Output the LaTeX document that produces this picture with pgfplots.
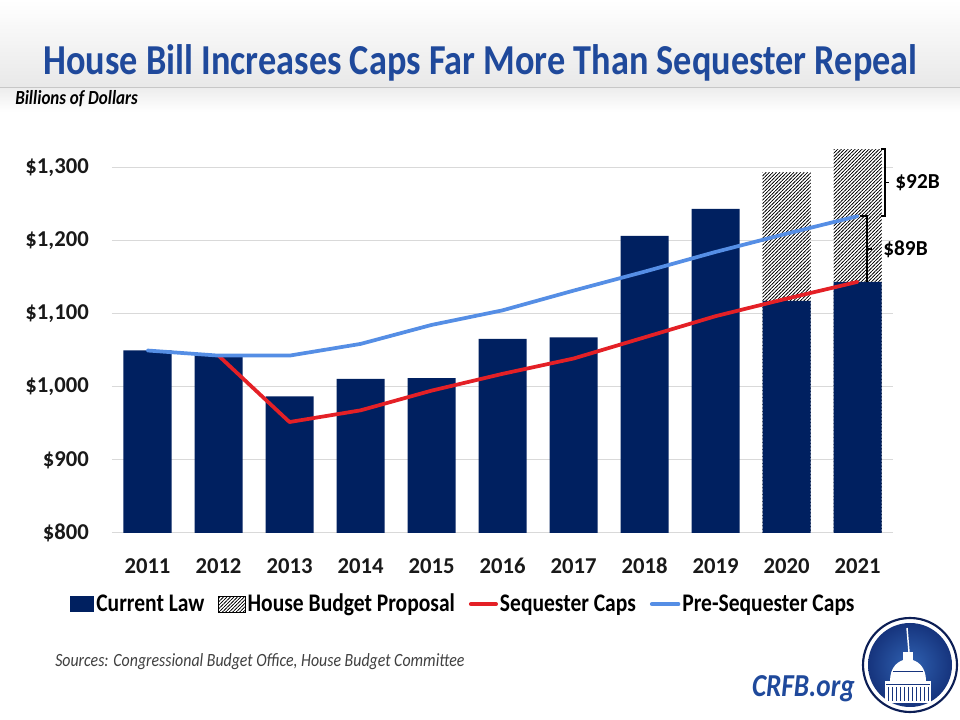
\documentclass[border=0pt]{standalone}
\usepackage{pgfplots}
\pgfplotsset{compat=1.18}
\usepackage{fontspec}
\setmainfont{Carlito}
\newfontfamily\condfont[FakeStretch=0.85]{Carlito}
\usetikzlibrary{patterns}
\definecolor{navy}{RGB}{0,32,96}
\definecolor{seqred}{RGB}{228,32,38}
\definecolor{preblue}{RGB}{85,142,229}
\definecolor{titleblue}{RGB}{31,73,155}
\definecolor{gridgray}{RGB}{217,217,217}
\definecolor{srcgray}{RGB}{64,64,64}
\definecolor{logodark}{RGB}{12,30,85}
\definecolor{logoin}{RGB}{48,98,178}
\definecolor{logoout}{RGB}{22,52,125}
\pgfdeclarepatternformonly{hatch}{\pgfqpoint{-1pt}{-1pt}}{\pgfqpoint{3.6pt}{3.6pt}}{\pgfqpoint{2.6pt}{2.6pt}}{%
  \pgfsetlinewidth{0.4pt}%
  \pgfpathmoveto{\pgfqpoint{-1pt}{-1pt}}%
  \pgfpathlineto{\pgfqpoint{3.6pt}{3.6pt}}%
  \pgfusepath{stroke}}
\begin{document}
\begin{tikzpicture}
\useasboundingbox (0,0) rectangle (720pt,540pt);
\begin{scope}[x=0.75pt,y=-0.75pt,shift={(0pt,540pt)}]
  \fill[white] (0,0) rectangle (960,720);
  \shade[top color=white, bottom color=black!9] (0,0) rectangle (960,88);
  \shade[top color=black!7, bottom color=white] (0,88) rectangle (960,112);
  \draw[black!22, line width=0.75pt] (0,88) -- (960,88);
  \node[anchor=base, text=titleblue, font=\condfont\bfseries\fontsize{32}{36}\selectfont, inner sep=0pt] at (480.5,75) {House Bill Increases Caps Far More Than Sequester Repeal};
  \node[anchor=base west, font=\condfont\bfseries\itshape\fontsize{15}{18}\selectfont, inner sep=0pt] at (15,105) {Billions of Dollars};
  \node[anchor=base west, text=srcgray, font=\condfont\itshape\fontsize{14}{17}\selectfont, inner sep=0pt] at (55,667) {Sources: Congressional Budget Office, House Budget Committee};
  \node[anchor=base east, text=titleblue, font=\condfont\bfseries\itshape\fontsize{24}{28}\selectfont, inner sep=0pt] at (855,697) {CRFB.org};
  % logo
  \draw[logodark, line width=1.6pt] (910,665) circle (47);
  \shade[inner color=logoin, outer color=logoout] (910,665) circle (42);
  \draw[white, line width=1.1pt] (907,628) -- (909,652);
  \fill[white] (903,652) rectangle (913,660);
  \fill[white] (890,681) .. controls (890,667) and (898,660) .. (908,659) .. controls (918,660) and (926,667) .. (926,681) -- cycle;
  \fill[white] (885,681) rectangle (931,703);
  \foreach \xx in {888,892,...,928} {\draw[logoout, line width=0.6pt] (\xx,687) -- (\xx,701);}
  \draw[logoout, line width=0.5pt] (893,671) -- (923,671);
  \draw[logoout, line width=0.5pt] (886,684) -- (930,684);
\end{scope}
\begin{axis}[
  at={(84pt,140.25pt)}, anchor=south west,
  scale only axis, width=585.75pt, height=301.125pt,
  xmin=-0.5, xmax=10.5, ymin=800, ymax=1350,
  clip mode=individual,
  axis line style={draw=none},
  major tick style={draw=none},
  xtick={0,1,2,3,4,5,6,7,8,9,10},
  xticklabels={2011,2012,2013,2014,2015,2016,2017,2018,2019,2020,2021},
  ytick={800,900,1000,1100,1200,1300},
  yticklabels={{\$800},{\$900},{\$1,000},{\$1,100},{\$1,200},{\$1,300}},
  ymajorgrids, grid style={draw=gridgray, line width=0.75pt},
  tick label style={font=\bfseries\fontsize{17}{20}\selectfont, text=black!90, inner sep=0pt},
  yticklabel style={anchor=east, xshift=-17.25pt},
  xticklabel style={anchor=north, yshift=-18.75pt},
  legend columns=4,
  legend cell align=left,
  legend style={draw=none, fill=none, at={(0.45,-0.177)}, anchor=center,
    font=\condfont\bfseries\fontsize{19}{22}\selectfont,
    nodes={inner sep=1.5pt},
    /tikz/every even column/.append style={column sep=9pt}},
]
% House proposal (hatched), drawn behind current law
\addplot[ybar, bar width=36pt, bar shift=0pt, draw=none, fill=white,
  postaction={pattern=hatch, pattern color=black}, forget plot]
  coordinates {(9,1294) (10,1326)};
% Current law
\addplot[ybar, bar width=36pt, bar shift=0pt, draw=none, fill=navy,
  legend image code/.code={\fill[navy] (0pt,-6pt) rectangle (18pt,6pt);}]
  coordinates {(0,1050) (1,1043) (2,987) (3,1011) (4,1012) (5,1066) (6,1068) (7,1207) (8,1244) (9,1118) (10,1144)};
\addlegendentry{Current Law}
\addlegendimage{legend image code/.code={\fill[white] (0pt,-6pt) rectangle (20pt,6pt); \fill[pattern=hatch, pattern color=black] (0pt,-6pt) rectangle (20pt,6pt);}}
\addlegendentry{House Budget Proposal}
% Sequester caps
\addplot[seqred, line width=2.8pt, line cap=round, line join=round, sharp plot,
  legend image code/.code={\draw[seqred, line width=2.8pt, line cap=round] (0pt,0pt) -- (19pt,0pt);}]
  coordinates {(1,1043) (2,952) (3,968) (4,995) (5,1018) (6,1039) (7,1068) (8,1097) (9,1121) (10,1144)};
\addlegendentry{Sequester Caps}
% Pre-sequester caps
\addplot[preblue, line width=2.8pt, line cap=round, line join=round, sharp plot,
  legend image code/.code={\draw[preblue, line width=2.8pt, line cap=round] (0pt,0pt) -- (20pt,0pt);}]
  coordinates {(0,1050) (1,1043) (2,1043) (3,1059) (4,1085) (5,1105) (6,1132) (7,1158) (8,1185) (9,1210) (10,1234)};
\addlegendentry{Pre-Sequester Caps}
% annotations
\draw[black, line width=1.3pt] (axis cs:10.33,1326) -- (axis cs:10.387,1326) -- (axis cs:10.387,1234) -- (axis cs:10.33,1234);
\draw[black, line width=1.3pt] (axis cs:10.387,1280) -- (axis cs:10.44,1280);
\node[anchor=west, inner sep=0pt, font=\bfseries\fontsize{16}{19}\selectfont] at (axis cs:10.53,1280) {\$92B};
\draw[black, line width=1.3pt] (axis cs:10.035,1234) -- (axis cs:10.134,1234) -- (axis cs:10.134,1144);
\draw[black, line width=1.3pt] (axis cs:10.134,1189) -- (axis cs:10.204,1189);
\node[anchor=west, inner sep=0pt, font=\bfseries\fontsize{16}{19}\selectfont] at (axis cs:10.36,1189) {\$89B};
\end{axis}
\end{tikzpicture}
\end{document}
